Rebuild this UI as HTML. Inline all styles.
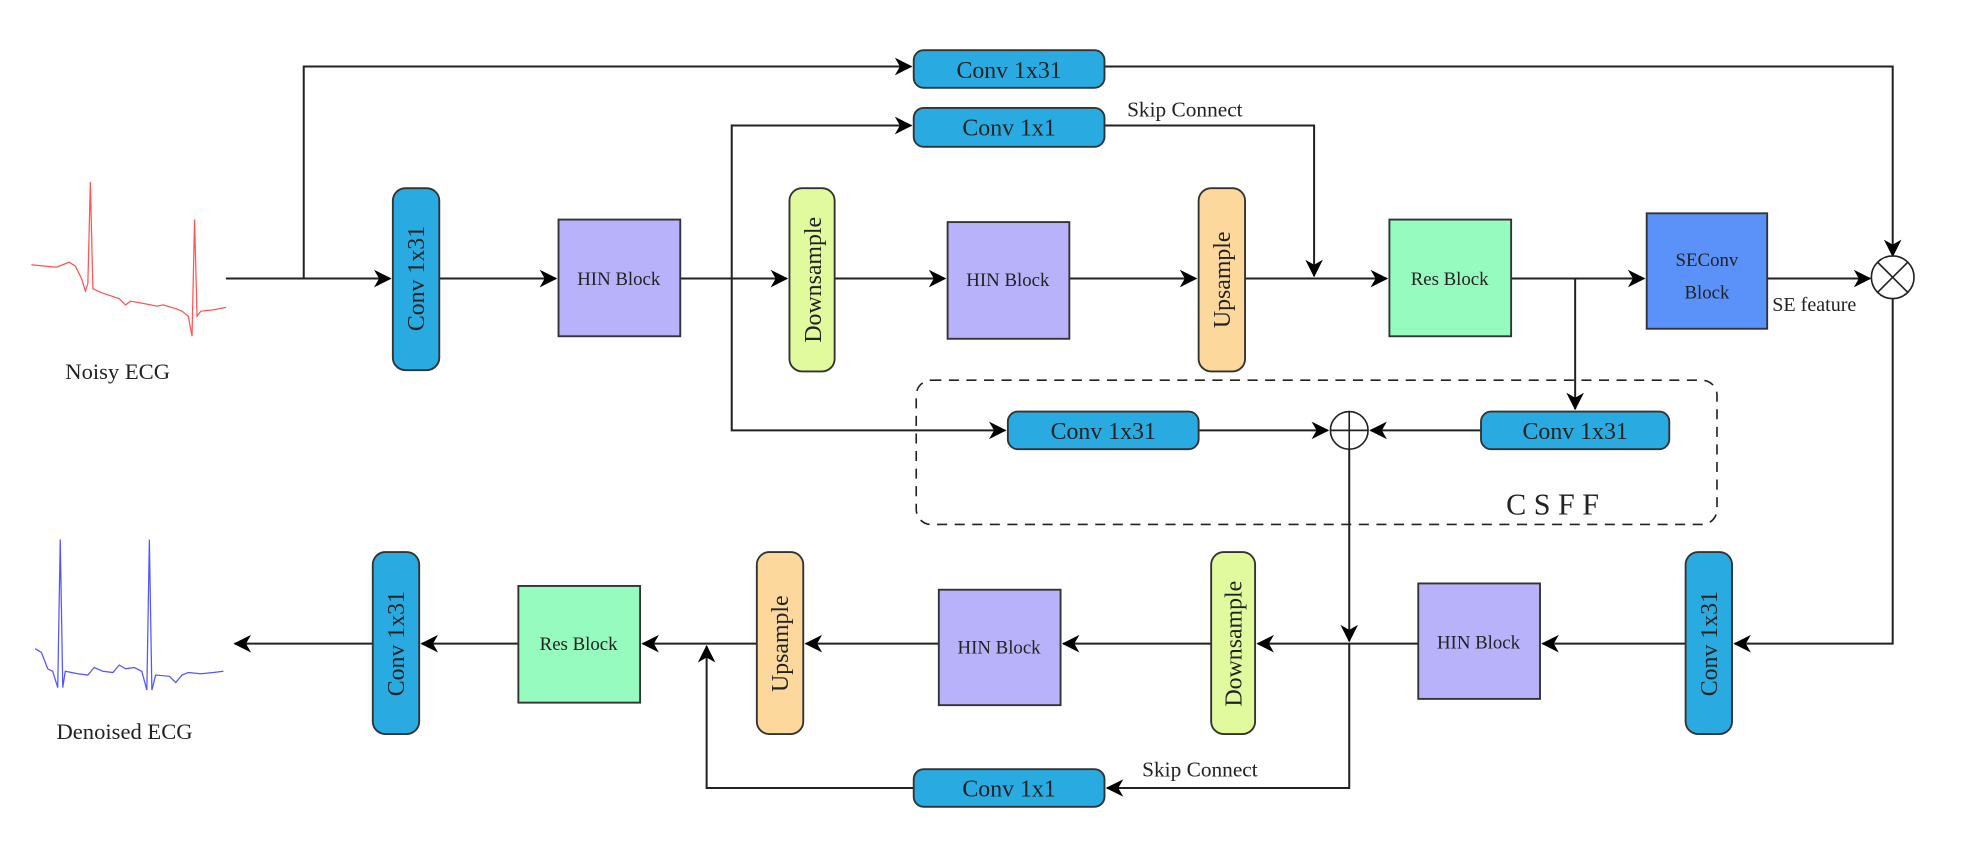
<!DOCTYPE html>
<html><head><meta charset="utf-8"><style>
html,body{margin:0;padding:0;background:#fff;}
svg{display:block;}
text{font-family:"Liberation Serif",serif;fill:#222;}
</style></head><body>
<svg width="1968" height="862" viewBox="0 0 1568 687" preserveAspectRatio="none" xmlns="http://www.w3.org/2000/svg">
<defs>
<marker id="a" markerWidth="14" markerHeight="14" refX="13" refY="7" orient="auto" markerUnits="userSpaceOnUse"><path d="M0,0 L14,7 L0,14 L4,7 Z" fill="#000"/></marker>
</defs>
<g stroke="#222" stroke-width="1.6" fill="none">
<path stroke="#f55" stroke-width="1" d="M25,211 L35,212 L45,213 L50,211 L55,209 L60,212 L65,222 L68,232 L70,226 L72,145 L74,230 L80,233 L95,238 L100,243 L104,240 L115,242 L125,244 L130,243 L140,246 L145,248 L150,252 L153,268 L155,175 L157,252 L160,248 L170,247 L180,245"/>
<path stroke="#55f" stroke-width="1" d="M28,517 L33,520 L38,533 L42,535 L46,548 L48,430 L50,548 L52,535 L62,537 L70,538 L75,532 L82,535 L90,536 L95,530 L100,533 L107,532 L113,535 L117,550 L119,430 L121,550 L124,538 L135,539 L140,544 L145,538 L150,536 L160,537 L170,536 L178,535"/>
<line x1="180" y1="222" x2="311" y2="222" marker-end="url(#a)"/>
<polyline points="242,222 242,53 726,53" marker-end="url(#a)"/>
<line x1="350" y1="222" x2="443" y2="222" marker-end="url(#a)"/>
<line x1="542" y1="222" x2="627" y2="222" marker-end="url(#a)"/>
<polyline points="583,222 583,100 726,100" marker-end="url(#a)"/>
<polyline points="583,222 583,343 801,343" marker-end="url(#a)"/>
<line x1="665" y1="222" x2="753" y2="222" marker-end="url(#a)"/>
<line x1="852" y1="222" x2="953" y2="222" marker-end="url(#a)"/>
<line x1="992" y1="222" x2="1105" y2="222" marker-end="url(#a)"/>
<polyline points="880,100 1047,100 1047,220" marker-end="url(#a)"/>
<line x1="1204" y1="222" x2="1310" y2="222" marker-end="url(#a)"/>
<polyline points="1255,222 1255,326" marker-end="url(#a)"/>
<line x1="1408" y1="222" x2="1490" y2="222" marker-end="url(#a)"/>
<polyline points="880,53 1508,53 1508,204" marker-end="url(#a)"/>
<polyline points="1508,238 1508,513 1382,513" marker-end="url(#a)"/>
<rect x="730" y="303" width="638" height="115" rx="12" stroke-dasharray="8,6" stroke-width="1.3"/>
<line x1="955" y1="343" x2="1058" y2="343" marker-end="url(#a)"/>
<line x1="1180" y1="343" x2="1092" y2="343" marker-end="url(#a)"/>
<circle cx="1075" cy="343" r="15" stroke-width="1.3"/>
<line x1="1075" y1="328" x2="1075" y2="358" stroke-width="1.3"/>
<line x1="1060" y1="343" x2="1090" y2="343" stroke-width="1.3"/>
<line x1="1075" y1="358" x2="1075" y2="511" marker-end="url(#a)"/>
<circle cx="1508" cy="221" r="17" stroke-width="1.3"/>
<line x1="1496" y1="209" x2="1520" y2="233" stroke-width="1.3"/>
<line x1="1520" y1="209" x2="1496" y2="233" stroke-width="1.3"/>
<line x1="1343" y1="513" x2="1229" y2="513" marker-end="url(#a)"/>
<line x1="1130" y1="513" x2="1002" y2="513" marker-end="url(#a)"/>
<line x1="965" y1="513" x2="847" y2="513" marker-end="url(#a)"/>
<line x1="748" y1="513" x2="642" y2="513" marker-end="url(#a)"/>
<line x1="603" y1="513" x2="512" y2="513" marker-end="url(#a)"/>
<line x1="413" y1="513" x2="336" y2="513" marker-end="url(#a)"/>
<line x1="297" y1="513" x2="187" y2="513" marker-end="url(#a)"/>
<polyline points="1075,513 1075,628 882,628" marker-end="url(#a)"/>
<polyline points="728,628 563,628 563,515" marker-end="url(#a)"/>
</g>
<g stroke="#333" stroke-width="1.5">
<rect x="728" y="40" width="152" height="30" rx="8" fill="#29abe2"/>
<rect x="728" y="86" width="152" height="31" rx="8" fill="#29abe2"/>
<rect x="313" y="150" width="37" height="145" rx="10" fill="#29abe2"/>
<rect x="445" y="175" width="97" height="93" fill="#b8b2fb"/>
<rect x="629" y="150" width="36" height="146" rx="10" fill="#e2fa9e"/>
<rect x="755" y="177" width="97" height="93" fill="#b8b2fb"/>
<rect x="955" y="150" width="37" height="146" rx="10" fill="#fdd89c"/>
<rect x="1107" y="175" width="97" height="93" fill="#96fbbe"/>
<rect x="1312" y="170" width="96" height="92" fill="#5b92fa"/>
<rect x="803" y="328" width="152" height="30" rx="8" fill="#29abe2"/>
<rect x="1180" y="328" width="150" height="30" rx="8" fill="#29abe2"/>
<rect x="1343" y="440" width="37" height="145" rx="10" fill="#29abe2"/>
<rect x="1130" y="465" width="97" height="92" fill="#b8b2fb"/>
<rect x="965" y="440" width="35" height="145" rx="10" fill="#e2fa9e"/>
<rect x="748" y="470" width="97" height="92" fill="#b8b2fb"/>
<rect x="603" y="440" width="37" height="145" rx="10" fill="#fdd89c"/>
<rect x="413" y="467" width="97" height="93" fill="#96fbbe"/>
<rect x="297" y="440" width="37" height="145" rx="10" fill="#29abe2"/>
<rect x="728" y="613" width="152" height="30" rx="8" fill="#29abe2"/>
</g>
<g font-size="19" text-anchor="middle">
<text x="804" y="62">Conv 1x31</text>
<text x="804" y="108">Conv 1x1</text>
<text x="879" y="350">Conv 1x31</text>
<text x="1255" y="350">Conv 1x31</text>
<text x="804" y="635">Conv 1x1</text>
<text transform="translate(338,222) rotate(-90)">Conv 1x31</text>
<text transform="translate(1368,513) rotate(-90)">Conv 1x31</text>
<text transform="translate(322,513) rotate(-90)">Conv 1x31</text>
<text transform="translate(654,223) rotate(-90)">Downsample</text>
<text transform="translate(989,513) rotate(-90)">Downsample</text>
<text transform="translate(980,223) rotate(-90)">Upsample</text>
<text transform="translate(628,513) rotate(-90)">Upsample</text>
</g>
<g font-size="15" text-anchor="middle">
<text x="493" y="227">HIN Block</text>
<text x="803" y="228">HIN Block</text>
<text x="1178" y="517">HIN Block</text>
<text x="796" y="521">HIN Block</text>
<text x="1155" y="227">Res Block</text>
<text x="461" y="518">Res Block</text>
<text x="1360" y="212">SEConv</text>
<text x="1360" y="238">Block</text>
</g>
<g font-size="17">
<text x="898" y="93">Skip Connect</text>
<text x="910" y="619">Skip Connect</text>
<text x="1412" y="248" font-size="16">SE feature</text>
<text x="1200" y="410" font-size="24" letter-spacing="6">CSFF</text>
<text x="52" y="302" font-size="18">Noisy ECG</text>
<text x="45" y="589" font-size="18">Denoised ECG</text>
</g>
</svg>
</body></html>
